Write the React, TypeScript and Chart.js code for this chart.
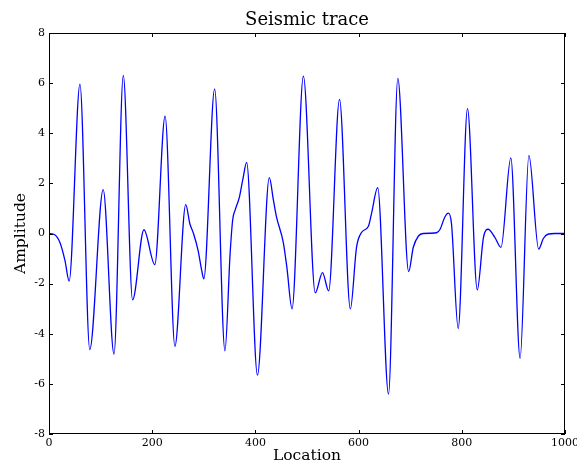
import React, { useEffect, useRef } from "react";
import { Chart, registerables } from "chart.js";

Chart.register(...registerables);

const TITLE = "Seismic trace";
const X_LABEL = "Location";
const Y_LABEL = "Amplitude";

const xTicks = [0, 200, 400, 600, 800, 1000];
const yTicks = [-8, -6, -4, -2, 0, 2, 4, 6, 8];

const traceX = [
  0, 11, 21, 31, 39, 60, 79, 105, 126, 144, 162, 184, 205, 225, 244, 265, 273, 280, 289, 296, 300,
  321, 341, 351, 356, 361, 369, 376, 383, 404, 427, 435, 441, 454, 461, 471, 493, 516, 530, 542,
  563, 584, 596, 606, 619, 625, 637, 658, 676, 697, 706, 716, 725, 740, 751, 758, 767, 774, 780,
  793, 811, 830, 842, 851, 864, 876, 895, 913, 930, 949, 958, 968, 980, 1000,
];
const traceY = [
  0, -0.05, -0.35, -1.08, -1.9, 5.96, -4.63, 1.75, -4.81, 6.31, -2.65, 0.15, -1.24, 4.68, -4.5, 1.15, 0.39, 0, -0.68, -1.48, -1.81,
  5.77, -4.68, -0.8, 0.55, 0.95, 1.45, 2.2, 2.84, -5.65, 2.23, 1.32, 0.65, -0.35, -1.35, -3.01, 6.28, -2.37, -1.56, -2.29,
  5.35, -3.01, -0.55, 0.05, 0.29, 0.79, 1.83, -6.41, 6.19, -1.52, -0.55, -0.1, 0, 0.01, 0.03, 0.17, 0.65, 0.81, 0.39,
  -3.79, 4.98, -2.25, -0.15, 0.17, -0.15, -0.55, 3.02, -4.98, 3.12, -0.62, -0.2, -0.02, 0, 0,
];

const SERIF = "'DejaVu Serif', serif";

const framePlugin = {
  id: "frameTicksTitle",
  afterDraw(chart: any) {
    const { ctx, chartArea, scales } = chart;
    const { left, right, top, bottom } = chartArea;
    ctx.save();
    ctx.strokeStyle = "#000";
    ctx.lineWidth = 1;
    ctx.strokeRect(left + 0.5, top + 0.5, right - left - 1, bottom - top - 1);
    const tl = 4;
    ctx.beginPath();
    for (const v of xTicks) {
      const px = Math.round(scales.x.getPixelForValue(v)) + 0.5;
      ctx.moveTo(px, bottom);
      ctx.lineTo(px, bottom - tl);
      ctx.moveTo(px, top);
      ctx.lineTo(px, top + tl);
    }
    for (const v of yTicks) {
      const py = Math.round(scales.y.getPixelForValue(v)) + 0.5;
      ctx.moveTo(left, py);
      ctx.lineTo(left + tl, py);
      ctx.moveTo(right, py);
      ctx.lineTo(right - tl, py);
    }
    ctx.stroke();
    ctx.fillStyle = "#000";
    ctx.font = `18px ${SERIF}`;
    ctx.textAlign = "center";
    ctx.textBaseline = "middle";
    ctx.fillText(TITLE, (left + right) / 2, 20);
    ctx.restore();
  },
};

export default function App() {
  const ref = useRef<HTMLCanvasElement>(null);
  useEffect(() => {
    document.body.style.margin = "0";
    const canvas = ref.current!;
    const data = traceX.map((x, i) => ({ x, y: traceY[i] }));
    const chart = new Chart(canvas, {
      type: "line",
      data: {
        datasets: [
          {
            data,
            borderColor: "#0000ff",
            borderWidth: 1.3,
            pointRadius: 0,
            fill: false,
            cubicInterpolationMode: "monotone",
          },
        ],
      },
      options: {
        animation: false,
        responsive: false,
        devicePixelRatio: 1,
        layout: { padding: { top: 33, right: 12, left: 0, bottom: 0 } },
        plugins: { legend: { display: false }, tooltip: { enabled: false }, title: { display: false } },
        scales: {
          x: {
            type: "linear",
            min: 0,
            max: 1000,
            grid: { display: false, drawTicks: false },
            border: { display: false },
            ticks: {
              stepSize: 200,
              padding: 3,
              maxRotation: 0,
              autoSkip: false,
              color: "#000",
              font: { family: SERIF, size: 11 },
              callback: (v: any) => String(v),
            },
            title: {
              display: true,
              text: X_LABEL,
              color: "#000",
              font: { family: SERIF, size: 15.5 },
              padding: { top: 0, bottom: 0 },
            },
            afterFit: (s: any) => {
              s.height = 31;
              s.paddingLeft = 0;
              s.paddingRight = 0;
            },
          },
          y: {
            type: "linear",
            min: -8,
            max: 8,
            grid: { display: false, drawTicks: false },
            border: { display: false },
            ticks: {
              stepSize: 2,
              padding: 4,
              autoSkip: false,
              color: "#000",
              font: { family: SERIF, size: 11 },
              callback: (v: any) => String(v),
            },
            title: {
              display: true,
              text: Y_LABEL,
              color: "#000",
              font: { family: SERIF, size: 15.5 },
              padding: { top: 12, bottom: 0 },
            },
            afterFit: (s: any) => {
              s.width = 49;
              s.paddingTop = 0;
              s.paddingBottom = 0;
            },
          },
        },
      },
      plugins: [framePlugin],
    });
    return () => chart.destroy();
  }, []);
  return (
    <canvas
      ref={ref}
      width={577}
      height={465}
      style={{ display: "block", width: 577, height: 465 }}
    />
  );
}
